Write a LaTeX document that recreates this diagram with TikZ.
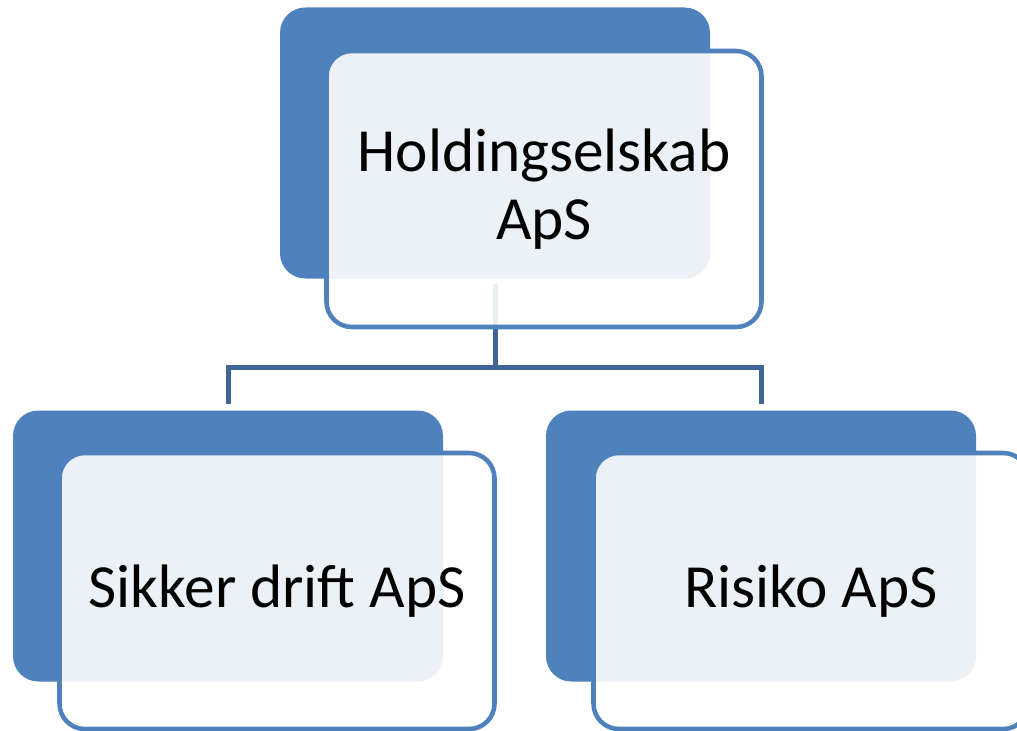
\documentclass[tikz,border=0pt]{standalone}
\usepackage{fontspec}
\setmainfont{Carlito}
\definecolor{boxblue}{HTML}{4F81BD}
\definecolor{connblue}{HTML}{3F6595}
\tikzset{
  backbox/.style={fill=boxblue, draw=none, rounded corners=19pt,
    minimum width=322.5pt, minimum height=203.25pt, inner sep=0pt},
  frontbox/.style={draw=boxblue, line width=3.4pt, fill=white, fill opacity=0.89,
    text opacity=1, rounded corners=19pt, minimum width=326.25pt, minimum height=207pt,
    inner sep=0pt, align=center, font=\fontsize{46}{51}\selectfont},
  conn/.style={draw=connblue, line width=3.75pt}
}
\begin{document}
\begin{tikzpicture}[x=0.75pt,y=-0.75pt]
\useasboundingbox (0,0) rectangle (1017,731);
% back boxes
\node[backbox] (topback) at (495,143) {};
\node[backbox] (leftback) at (228,546) {};
\node[backbox] (rightback) at (761,546) {};
% connectors
\coordinate (bus) at (495,367);
\draw[conn] ([yshift=-3.75pt]topback.south) -- (bus);
\draw[conn] ([yshift=4.5pt]leftback.north) |- (bus) -| ([yshift=4.5pt]rightback.north);
% front boxes
\node[frontbox] (top) at (544,189) {Holdingselskab\\ApS};
\node[frontbox] (left) at (277,591) {Sikker drift ApS};
\node[frontbox] (right) at (811,591) {Risiko ApS};
\end{tikzpicture}
\end{document}
